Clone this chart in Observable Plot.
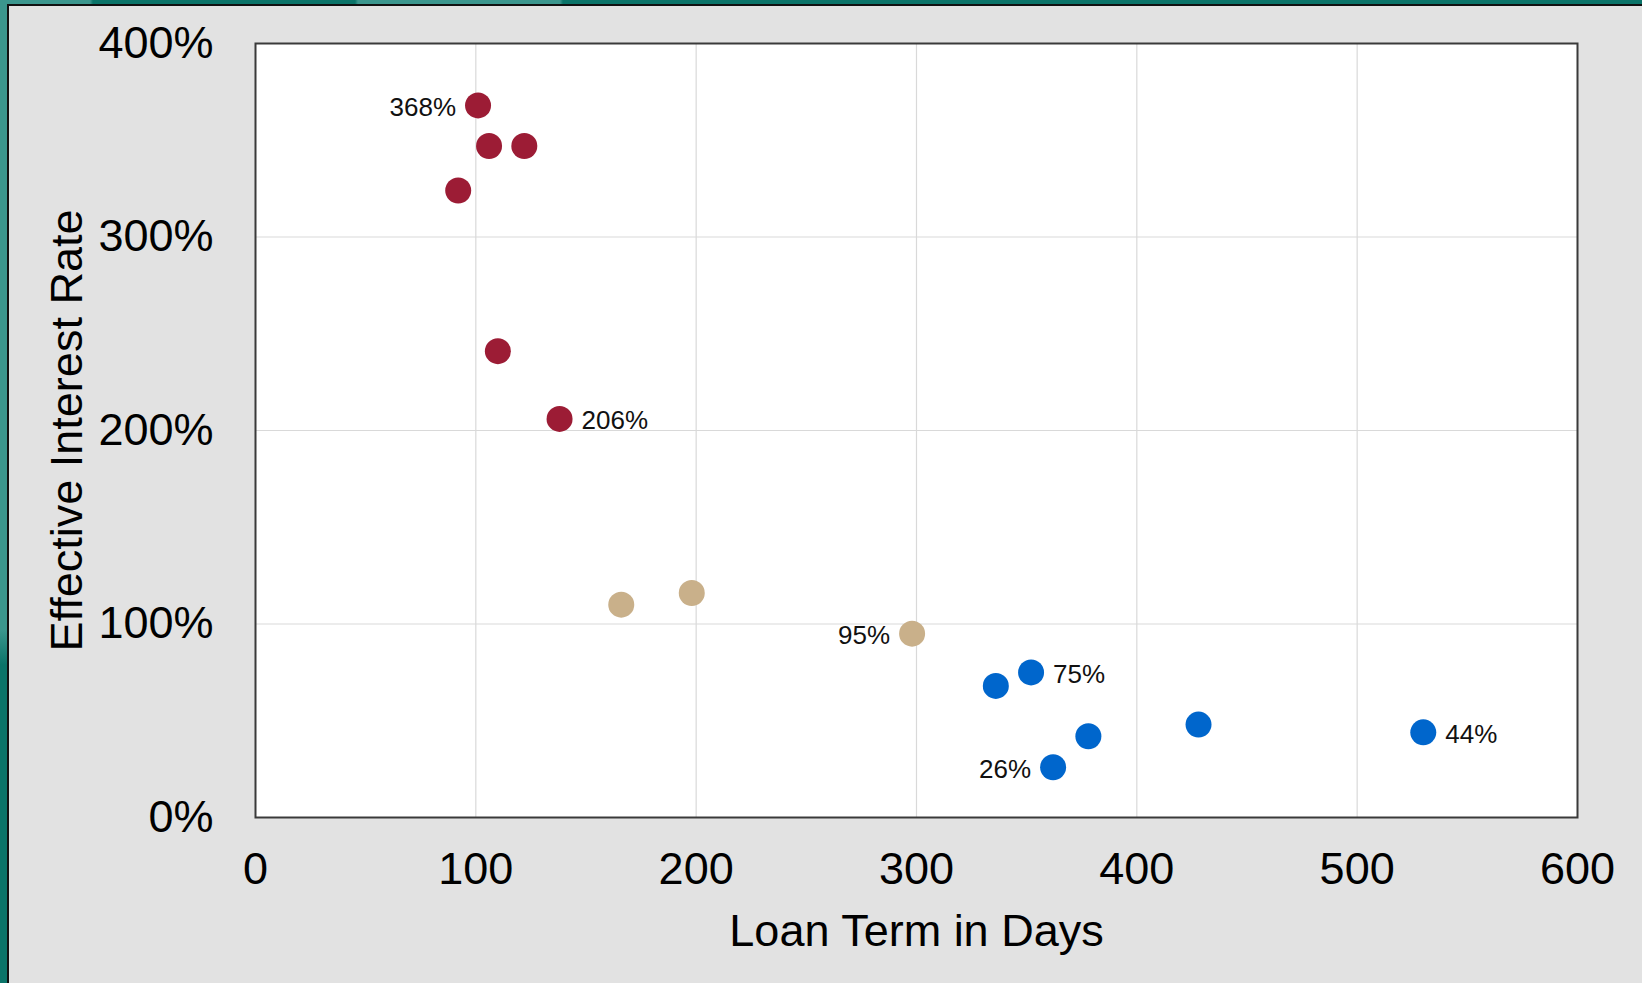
<!DOCTYPE html>
<html>
<head>
<meta charset="utf-8">
<script src="https://cdn.jsdelivr.net/npm/d3@7"></script>
<script src="https://cdn.jsdelivr.net/npm/@observablehq/plot@0.6"></script>
<style>
  html, body { margin: 0; padding: 0; }
  body {
    width: 1642px; height: 983px; overflow: hidden; position: relative;
    background: linear-gradient(180deg, #3b968d 0px, #3b968d 630px, #0b7469 665px, #0b7469 100%);
    font-family: "Liberation Sans", Arial, sans-serif;
  }
  #topband {
    position: absolute; left: 0; top: 0; width: 1642px; height: 5px;
    background: linear-gradient(90deg, #3b968d 0px, #3b968d 90px, #0b7469 93px, #0b7469 355px, #3b968d 358px, #3b968d 560px, #0b7469 563px, #0b7469 100%);
  }
  #panel {
    position: absolute; left: 7px; top: 4px; width: 1633px; height: 977px;
    background: #e2e2e2; border-left: 2px solid #111; border-top: 2px solid #111;
  }
  #chart { position: absolute; left: 0; top: 0; }
</style>
</head>
<body>
<div id="topband"></div>
<div id="panel"></div>
<div id="chart"></div>
<script>
// ---- data ----
const loanDays   = [101, 106, 122, 92, 110, 138, 166, 198, 298, 336, 352, 378, 362, 428, 530];
const effRates   = [368, 347, 347, 324, 241, 206, 110, 116, 95, 68, 75, 42, 26, 48, 44];
const loanGroup  = ["short", "short", "short", "short", "short", "short",
                    "mid", "mid", "mid",
                    "long", "long", "long", "long", "long", "long"];
const pointLabel = ["368%", "", "", "", "", "206%", "", "", "95%", "", "75%", "", "26%", "", "44%"];
const groupNames  = ["short", "mid", "long"];
const groupColors = ["#9c1c35", "#c9b08a", "#0066cc"];
const xTicks = [0, 100, 200, 300, 400, 500, 600];
const yTicks = [0, 100, 200, 300, 400];
const xTitle = "Loan Term in Days";
const yTitle = "Effective Interest Rate";

const data = loanDays.map((d, i) => ({days: d, rate: effRates[i], group: loanGroup[i], label: pointLabel[i]}));
const leftLabeled = new Set(["368%", "95%", "26%"]);
const labLeft  = data.filter(d => d.label && leftLabeled.has(d.label));
const labRight = data.filter(d => d.label && !leftLabeled.has(d.label));

const chart = Plot.plot({
  width: 1642,
  height: 983,
  marginLeft: 255,
  marginTop: 43,
  marginRight: 65,
  marginBottom: 166,
  style: {background: "transparent", fontFamily: "'Liberation Sans', Arial, sans-serif", color: "#000", overflow: "visible"},
  x: {domain: [0, 600]},
  y: {domain: [0, 400]},
  color: {domain: groupNames, range: groupColors},
  marks: [
    Plot.frame({fill: "white", stroke: "none"}),
    Plot.gridX(xTicks, {stroke: "#d9d9d9", strokeOpacity: 1, strokeWidth: 1.2}),
    Plot.gridY(yTicks, {stroke: "#d9d9d9", strokeOpacity: 1, strokeWidth: 1.2}),
    Plot.frame({stroke: "#3a3a3a", strokeWidth: 2}),
    Plot.axisX(xTicks, {tickSize: 0, tickPadding: 35, fontSize: 45, label: xTitle, labelAnchor: "center", labelArrow: "none", labelOffset: 128}),
    Plot.axisY(yTicks, {tickSize: 0, tickPadding: 42, fontSize: 45, tickFormat: d => d + "%", label: yTitle, labelAnchor: "center", labelArrow: "none", labelOffset: 205}),
    Plot.dot(data, {x: "days", y: "rate", fill: "group", r: 13}),
    Plot.text(labLeft, {x: "days", y: "rate", text: "label", dx: -22, dy: 2, textAnchor: "end", fontSize: 26, fill: "#111"}),
    Plot.text(labRight, {x: "days", y: "rate", text: "label", dx: 22, dy: 2, textAnchor: "start", fontSize: 26, fill: "#111"})
  ]
});
document.getElementById("chart").appendChild(chart);
</script>
</body>
</html>
